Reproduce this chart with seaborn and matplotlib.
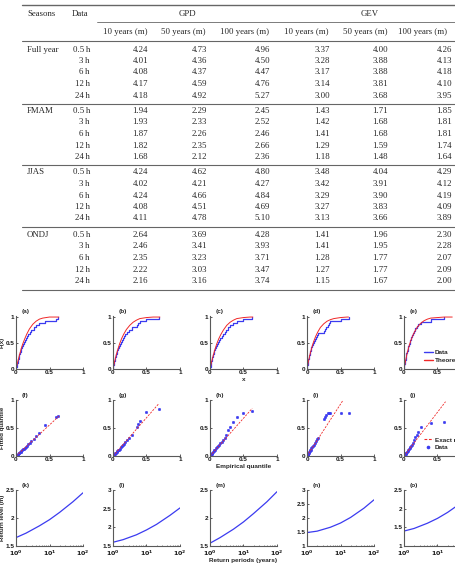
import matplotlib
matplotlib.use('Agg')
import matplotlib.pyplot as plt
from matplotlib.lines import Line2D
import seaborn as sns

# ---------------- table values ----------------
seasons = ['Full year', 'FMAM', 'JJAS', 'ONDJ']
durations = ['0.5 h', '3 h', '6 h', '12 h', '24 h']
sub_heads = ['10 years (m)', '50 years (m)', '100 years (m)'] * 2

gpd_10 = [4.24, 4.01, 4.08, 4.17, 4.18, 1.94, 1.93, 1.87, 1.82, 1.68,
          4.24, 4.02, 4.24, 4.08, 4.11, 2.64, 2.46, 2.35, 2.22, 2.16]
gpd_50 = [4.73, 4.36, 4.37, 4.59, 4.92, 2.29, 2.33, 2.26, 2.35, 2.12,
          4.62, 4.21, 4.66, 4.51, 4.78, 3.69, 3.41, 3.23, 3.03, 3.16]
gpd_100 = [4.96, 4.50, 4.47, 4.76, 5.27, 2.45, 2.52, 2.46, 2.66, 2.36,
           4.80, 4.27, 4.84, 4.69, 5.10, 4.28, 3.93, 3.71, 3.47, 3.74]
gev_10 = [3.37, 3.28, 3.17, 3.14, 3.00, 1.43, 1.42, 1.41, 1.29, 1.18,
          3.48, 3.42, 3.29, 3.27, 3.13, 1.41, 1.41, 1.28, 1.27, 1.15]
gev_50 = [4.00, 3.88, 3.88, 3.81, 3.68, 1.71, 1.68, 1.68, 1.59, 1.48,
          4.04, 3.91, 3.90, 3.83, 3.66, 1.96, 1.95, 1.77, 1.77, 1.67]
gev_100 = [4.26, 4.13, 4.18, 4.10, 3.95, 1.85, 1.81, 1.81, 1.74, 1.64,
           4.29, 4.12, 4.19, 4.09, 3.89, 2.30, 2.28, 2.07, 2.09, 2.00]

# ---------------- panel data ----------------
# exceedance samples (empirical cdf + empirical quantiles)
samp_a = [0.003, 0.009, 0.016, 0.023, 0.031, 0.040, 0.049, 0.058, 0.068, 0.079, 0.090, 0.102, 0.115,
          0.129, 0.144, 0.161, 0.180, 0.202, 0.228, 0.262, 0.305, 0.34, 0.44, 0.59, 0.62]
samp_b = [0.002, 0.007, 0.013, 0.020, 0.027, 0.035, 0.044, 0.053, 0.063, 0.074, 0.086, 0.099, 0.113,
          0.128, 0.145, 0.164, 0.186, 0.212, 0.245, 0.28, 0.36, 0.38, 0.40, 0.50, 0.68]
samp_c = [0.003, 0.008, 0.014, 0.021, 0.029, 0.037, 0.046, 0.056, 0.067, 0.079, 0.092, 0.106, 0.121,
          0.138, 0.156, 0.176, 0.198, 0.222, 0.245, 0.27, 0.30, 0.34, 0.41, 0.50, 0.62]
samp_d = [0.002, 0.006, 0.011, 0.016, 0.022, 0.028, 0.035, 0.042, 0.050, 0.058, 0.067, 0.077, 0.088,
          0.100, 0.114, 0.130, 0.148, 0.165, 0.25, 0.27, 0.29, 0.31, 0.33, 0.35, 0.50, 0.63]
samp_e = [0.002, 0.006, 0.011, 0.017, 0.023, 0.030, 0.037, 0.045, 0.053, 0.062, 0.072, 0.083, 0.095,
          0.108, 0.120, 0.135, 0.150, 0.170, 0.19, 0.21, 0.25, 0.40, 0.60]

# fitted quantiles matching the samples
fit_f = [0.003, 0.010, 0.018, 0.026, 0.035, 0.045, 0.055, 0.066, 0.078, 0.090, 0.103, 0.117, 0.132,
         0.148, 0.166, 0.186, 0.208, 0.233, 0.262, 0.30, 0.36, 0.41, 0.55, 0.69, 0.71]
fit_g = [0.003, 0.009, 0.017, 0.026, 0.036, 0.047, 0.059, 0.071, 0.085, 0.100, 0.116, 0.133, 0.152,
         0.172, 0.195, 0.221, 0.250, 0.285, 0.330, 0.38, 0.52, 0.57, 0.62, 0.79, 0.84]
fit_h = [0.004, 0.012, 0.021, 0.032, 0.044, 0.056, 0.069, 0.083, 0.099, 0.116, 0.135, 0.155, 0.177,
         0.201, 0.227, 0.256, 0.288, 0.33, 0.38, 0.46, 0.52, 0.60, 0.70, 0.77, 0.80]
fit_i = [0.004, 0.012, 0.022, 0.032, 0.044, 0.056, 0.070, 0.084, 0.100, 0.116, 0.134, 0.154, 0.176,
         0.200, 0.228, 0.260, 0.296, 0.33, 0.66, 0.70, 0.74, 0.77, 0.77, 0.77, 0.77, 0.77]
fit_j = [0.003, 0.010, 0.018, 0.027, 0.037, 0.048, 0.060, 0.073, 0.087, 0.102, 0.118, 0.136, 0.156,
         0.178, 0.20, 0.24, 0.28, 0.34, 0.38, 0.42, 0.52, 0.59, 0.60]

# theoretical cdf curves
cdf_x = [0, 0.02, 0.05, 0.08, 0.1, 0.13, 0.16, 0.2, 0.25, 0.3, 0.35, 0.4, 0.5, 0.6]
cdf_a = [0, .11, .26, .40, .48, .58, .67, .77, .86, .92, .96, .98, 1.0, 1.0]
cdf_b = [0, .12, .28, .41, .49, .59, .67, .76, .84, .90, .94, .97, .99, 1.0]
cdf_c = [0, .12, .27, .40, .48, .58, .66, .75, .84, .90, .94, .97, .99, 1.0]
cdf_d = [0, .14, .31, .45, .53, .63, .71, .80, .87, .92, .95, .97, .99, 1.0]
cdf_e = [0, .14, .32, .46, .54, .64, .72, .81, .88, .93, .96, .98, .99, 1.0]
cdf_end = [0.64, 0.70, 0.64, 0.62, 0.72]

# exact-match line ends (empirical, fitted)
qq_end_x = [0.64, 0.68, 0.63, 0.54, 0.62]
qq_end_y = [0.71, 0.93, 0.85, 1.00, 0.97]

# return levels
periods = [1, 2, 5, 10, 20, 50, 100]
rl_k = [1.65, 1.73, 1.86, 1.97, 2.10, 2.29, 2.45]
rl_l = [1.60, 1.67, 1.80, 1.93, 2.08, 2.32, 2.52]
rl_m = [1.55, 1.65, 1.80, 1.93, 2.08, 2.29, 2.47]
rl_n = [1.48, 1.53, 1.67, 1.82, 2.02, 2.35, 2.65]
rl_o = [1.40, 1.47, 1.61, 1.74, 1.90, 2.15, 2.37]
rl_yticks = [[1.5, 2, 2.5], [1.5, 2, 2.5, 3], [1.5, 2, 2.5], [1, 1.5, 2, 2.5, 3], [1, 1.5, 2, 2.5]]

samples = [samp_a, samp_b, samp_c, samp_d, samp_e]
fitted = [fit_f, fit_g, fit_h, fit_i, fit_j]
cdfs = [cdf_a, cdf_b, cdf_c, cdf_d, cdf_e]
levels = [rl_k, rl_l, rl_m, rl_n, rl_o]
letters = 'abcdefghijklmno'

sns.set_style('ticks')
plt.rcParams['font.family'] = ['Liberation Sans', 'DejaVu Sans']
plt.rcParams['mathtext.default'] = 'bf'

W, H = 456, 564
fig = plt.figure(figsize=(W / 100, H / 100), dpi=100)
blue = '#3b3bf0'
red = '#f02828'
serif = ['Liberation Serif', 'DejaVu Serif']
tfs = 6.3


def fx(x):
    return x / W


def fy(y):
    return 1 - y / H


def hline(y, x0, x1, lw=0.8):
    fig.add_artist(Line2D([fx(x0), fx(x1)], [fy(y), fy(y)], color='0.4', lw=lw))


def ttext(x, y, s, ha):
    fig.text(fx(x), fy(y), s, ha=ha, va='center', fontsize=tfs, family=serif, color='0.15')


# ---------------- table ----------------
hline(5, 22, 456, 1.0)
ttext(27, 14, 'Seasons', 'left')
ttext(72, 14, 'Data', 'left')
ttext(187, 14, 'GPD', 'center')
ttext(370, 14, 'GEV', 'center')
hline(22, 97, 456, 0.6)
head_x = [125, 183, 245, 306, 365, 423]
for hx, s in zip(head_x, sub_heads):
    ttext(hx, 32, s, 'center')
hline(41, 22, 456, 0.8)

cols = [gpd_10, gpd_50, gpd_100, gev_10, gev_50, gev_100]
num_x = [148, 207, 270, 330, 388, 452]
group_y = [49.5, 111, 172.5, 235]
for g, season in enumerate(seasons):
    ttext(27, group_y[g], season, 'left')
    for r, dur in enumerate(durations):
        y = group_y[g] + r * 11.5
        ttext(90, y, dur.replace(' ', '\u2009'), 'right')
        for c in range(6):
            ttext(num_x[c], y, f'{cols[c][g * 5 + r]:.2f}', 'right')
    rule_y = group_y[g] + 4 * 11.5 + 8 if g < 3 else 290
    hline(rule_y, 22, 456, 0.8)

# ---------------- panels ----------------
col_left = [16, 113, 210, 307, 404]
row_top = [316, 400, 490]
row_bot = [369, 456, 546]
lab_fs = 4.6


def make_ax(r, c):
    ax = fig.add_axes([fx(col_left[c]), fy(row_bot[r]), 67 / W, (row_bot[r] - row_top[r]) / H])
    sns.despine(ax=ax)
    for s in ('left', 'bottom'):
        ax.spines[s].set_color('0.35')
        ax.spines[s].set_linewidth(0.8)
    ax.tick_params(direction='in', length=1.5, width=0.5, labelsize=lab_fs, pad=1,
                   colors='0.1')
    ax.text(0.08, 1.04, f'({letters[r * 5 + c]})', transform=ax.transAxes, fontsize=lab_fs,
            fontweight='bold', va='bottom', ha='left')
    return ax


def finish(ax, ylab=None, xlab=None, xpad=1.5):
    ax.set_xlabel('')
    ax.set_ylabel('')
    for t in ax.get_xticklabels() + ax.get_yticklabels():
        t.set_fontweight('bold')
    if ylab:
        ax.set_ylabel(ylab, fontsize=lab_fs - 0.2, fontweight='bold')
        ax.yaxis.set_label_coords(-0.165, 0.5)
    if xlab:
        ax.set_xlabel(xlab, fontsize=lab_fs, fontweight='bold', labelpad=xpad)


for c in range(5):
    # cdf row
    ax = make_ax(0, c)
    sns.ecdfplot(x=samples[c], ax=ax, color=blue, lw=0.9)
    sns.lineplot(x=cdf_x + [cdf_end[c]], y=cdfs[c] + [1.0], ax=ax, color=red, lw=0.7,
                 sort=False, estimator=None)
    ax.set_xlim(0, 1)
    ax.set_ylim(0, 1.02)
    ax.set_xticks([0, 0.5, 1], ['0', '0.5', '1'])
    ax.set_yticks([0, 0.5, 1], ['0', '0.5', '1'])
    finish(ax, 'F(x)' if c == 0 else None, 'x' if c == 2 else None)
    if c == 4:
        ax.legend(handles=[Line2D([], [], color=blue, lw=1), Line2D([], [], color=red, lw=1)],
                  labels=['Data', 'Theoretical'], loc='center left', bbox_to_anchor=(0.25, 0.24),
                  frameon=False, prop={'size': lab_fs, 'weight': 'bold'}, handlelength=1.4,
                  handletextpad=0.3, labelspacing=0.35, borderpad=0)

    # qq row
    ax = make_ax(1, c)
    sns.lineplot(x=[0, qq_end_x[c]], y=[0, qq_end_y[c]], ax=ax, color=red, lw=0.6,
                 linestyle=(0, (2.5, 1.5)), estimator=None)
    sns.scatterplot(x=samples[c], y=fitted[c], ax=ax, color=blue, s=3.5, marker='o',
                    edgecolor=blue, linewidth=0.3)
    ax.set_xlim(0, 1)
    ax.set_ylim(0, 1)
    ax.set_xticks([0, 0.5, 1], ['0', '0.5', '1'])
    ax.set_yticks([0, 0.5, 1], ['0', '0.5', '1'])
    finish(ax, 'Fitted quantile' if c == 0 else None, 'Empirical quantile' if c == 2 else None)
    if c == 4:
        ax.legend(handles=[Line2D([], [], color=red, lw=0.8, linestyle=(0, (2.5, 1.5))),
                           Line2D([], [], color=blue, marker='o', ms=1.6, lw=0)],
                  labels=['Exact match', 'Data'], loc='center left', bbox_to_anchor=(0.25, 0.22),
                  frameon=False, prop={'size': lab_fs, 'weight': 'bold'}, handlelength=1.4,
                  handletextpad=0.3, labelspacing=0.35, borderpad=0)

    # return level row
    ax = make_ax(2, c)
    sns.lineplot(x=periods, y=levels[c], ax=ax, color=blue, lw=0.9, estimator=None)
    ax.set_xscale('log')
    ax.set_xlim(1, 100)
    yt = rl_yticks[c]
    ax.set_ylim(yt[0], yt[-1])
    ax.set_yticks(yt, [f'{v:g}' for v in yt])
    ax.set_xticks([1, 10, 100], ['$10^0$', '$10^1$', '$10^2$'])
    ax.tick_params(which='minor', direction='in', length=1, width=0.4)
    ax.tick_params(axis='x', pad=2)
    finish(ax, 'Return level (m)' if c == 0 else None,
           'Return periods (years)' if c == 2 else None, xpad=0.3)

fig.savefig('out.png', dpi=100)
